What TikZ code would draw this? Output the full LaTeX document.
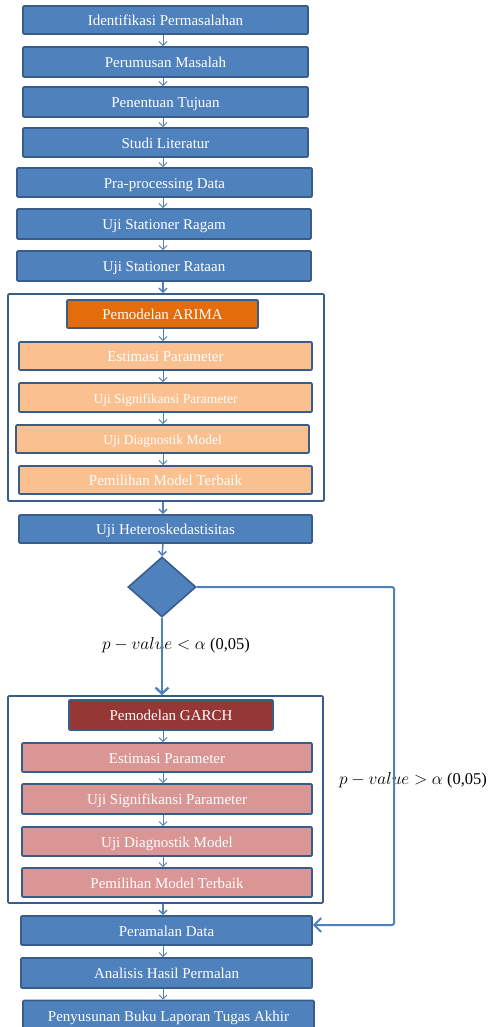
\documentclass[tikz,border=0pt]{standalone}
\usepackage{fontspec}
\setmainfont{Liberation Serif}
\usetikzlibrary{arrows.meta,shapes.geometric}
\definecolor{blu}{HTML}{4F81BD}
\definecolor{bdr}{HTML}{385D8A}
\definecolor{org}{HTML}{E46C0A}
\definecolor{lorg}{HTML}{FAC090}
\definecolor{grc}{HTML}{953735}
\definecolor{lred}{HTML}{D99694}
\tikzset{
  box/.style={rectangle, rounded corners=1pt, draw=bdr, line width=1.6pt, fill=blu, text=white,
    inner sep=0pt, minimum height=28pt, text height=11.5pt, text depth=0pt, font=\fontsize{15}{15}\selectfont},
  outer/.style={rectangle, rounded corners=1pt, draw=bdr, line width=1.6pt, fill=white, inner sep=0pt},
  arr/.style={draw=blu, line width=1pt, -{Straight Barb[length=4pt,width=8pt]}},
  tarr/.style={draw=blu, line width=2.4pt, -{Straight Barb[length=6pt,width=13pt]}},
  tline/.style={draw=blu, line width=2pt, rounded corners=2pt, -{Straight Barb[length=7pt,width=14pt]}},
  lbl/.style={font=\fontsize{16.5}{16.5}\selectfont, inner sep=0pt},
}
\begin{document}
\begin{tikzpicture}[x=1pt,y=-1pt]
\useasboundingbox (0,0) rectangle (488,1027);
% outer containers
\node[outer, minimum width=316pt, minimum height=207pt] (oa) at (166,397.5) {};
\node[outer, minimum width=315pt, minimum height=207pt] (og) at (165.5,799.5) {};
% main chain
\node[box, minimum width=285pt] (n1) at (165.5,20) {Identifikasi Permasalahan};
\node[box, minimum width=285pt, minimum height=30pt] (n2) at (165.5,62) {Perumusan Masalah};
\node[box, minimum width=285pt, minimum height=30pt] (n3) at (165.5,102) {Penentuan Tujuan};
\node[box, minimum width=285pt, minimum height=29pt] (n4) at (165.5,142.5) {Studi Literatur};
\node[box, minimum width=295pt, minimum height=29pt] (n5) at (164.5,182.5) {Pra-processing Data};
\node[box, minimum width=294pt, minimum height=30pt] (n6) at (164,224) {Uji Stationer Ragam};
\node[box, minimum width=294pt, minimum height=30pt] (n7) at (164,266) {Uji Stationer Rataan};
% ARIMA
\node[box, fill=org, minimum width=191pt] (a0) at (162.5,314) {Pemodelan ARIMA};
\node[box, fill=lorg, minimum width=293pt] (a1) at (165.5,356) {Estimasi Parameter};
\node[box, fill=lorg, minimum width=293pt, minimum height=29pt, font=\fontsize{13.5}{13.5}\selectfont] (a2) at (165.5,397.5) {Uji Signifikansi Parameter};
\node[box, fill=lorg, minimum width=293pt, font=\fontsize{13.5}{13.5}\selectfont] (a3) at (162.5,439) {Uji Diagnostik Model};
\node[box, fill=lorg, minimum width=293pt] (a4) at (165.5,480) {Pemilihan Model Terbaik};
\node[box, minimum width=293pt] (h) at (165.5,529) {Uji Heteroskedastisitas};
\node[diamond, draw=bdr, line width=1.6pt, fill=blu, inner sep=0pt, minimum width=68pt, minimum height=60pt] (d) at (162,587) {};
% GARCH
\node[box, fill=grc, minimum width=204pt, minimum height=30pt] (g0) at (171,715) {Pemodelan GARCH};
\node[box, fill=lred, minimum width=290pt, minimum height=29pt] (g1) at (167,757.5) {Estimasi Parameter};
\node[box, fill=lred, minimum width=290pt, minimum height=30pt] (g2) at (167,799) {Uji Signifikansi Parameter};
\node[box, fill=lred, minimum width=290pt, minimum height=29pt] (g3) at (167,841.5) {Uji Diagnostik Model};
\node[box, fill=lred, minimum width=290pt, minimum height=29pt] (g4) at (167,882.5) {Pemilihan Model Terbaik};
% final chain
\node[box, minimum width=291pt, minimum height=29pt] (f1) at (166.5,930.5) {Peramalan Data};
\node[box, minimum width=291pt, minimum height=30pt] (f2) at (166.5,973) {Analisis Hasil Permalan};
\node[box, minimum width=291pt, minimum height=30pt] (f3) at (168.5,1015.5) {Penyusunan Buku Laporan Tugas Akhir};
% labels
\node[lbl] (l1) at (176,645) {$p-value<\alpha$ (0,05)};
\node[lbl] (l2) at (413,780) {$p-value>\alpha$ (0,05)};
% axis coordinate
\coordinate (ax) at (163,0);
\coordinate (t1) at (394,587);
\coordinate (t2) at (394,925);
% arrows
\foreach \u/\v in {n1/n2,n2/n3,n3/n4,n4/n5,n5/n6,n6/n7,a0/a1,a1/a2,a2/a3,a3/a4,g0/g1,g1/g2,g2/g3,g3/g4,f1/f2,f2/f3}
  \draw[arr] (\u.south -| ax) -- (\v.north -| ax);
\draw[arr, line width=1.5pt] (n7.south -| ax) -- (oa.north -| ax);
\draw[arr, line width=1.5pt] (oa.south -| ax) -- (h.north -| ax);
\draw[arr, line width=1.5pt] (h.south -| ax) -- (d.north);
\draw[arr, line width=1.5pt] (og.south -| ax) -- (f1.north -| ax);
\draw[tarr] (d.south) -- (og.north -| d.south);
\draw[tline] (d.east) -- (t1) -- (t2) -- (f1.east |- t2);
\end{tikzpicture}
\end{document}
